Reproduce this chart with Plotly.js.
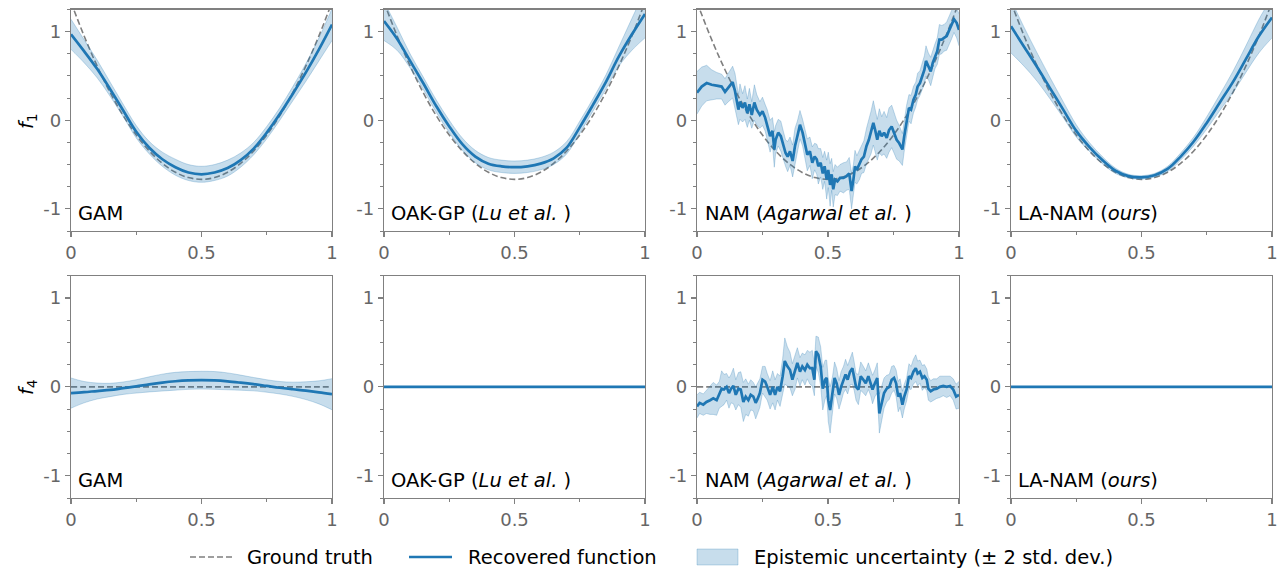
<!DOCTYPE html>
<html>
<head>
<meta charset="utf-8">
<script src="https://cdn.plot.ly/plotly-3.0.1.min.js"></script>
<style>body{margin:0;background:#fff}#chart{width:1278px;height:569px}</style>
</head>
<body>
<div id="chart"></div>
<script>
// ---------- data ----------
const gridX = [0,0.05,0.1,0.15,0.2,0.25,0.3,0.35,0.4,0.45,0.5,0.55,0.6,0.65,0.7,0.75,0.8,0.85,0.9,0.95,1];

const truthF1 = [1.333,0.953,0.613,0.313,0.053,-0.167,-0.347,-0.487,-0.587,-0.647,-0.667,-0.647,-0.587,-0.487,-0.347,-0.167,0.053,0.313,0.613,0.953,1.333];
const truthF4 = [0,0,0,0,0,0,0,0,0,0,0,0,0,0,0,0,0,0,0,0,0];

const gamF1     = [0.97,0.78,0.58,0.35,0.11,-0.13,-0.31,-0.44,-0.53,-0.59,-0.61,-0.59,-0.54,-0.45,-0.32,-0.14,0.07,0.30,0.54,0.80,1.08];
const gamF1Band = [0.17,0.13,0.10,0.08,0.07,0.07,0.07,0.08,0.09,0.09,0.09,0.09,0.09,0.08,0.07,0.07,0.07,0.08,0.10,0.13,0.18];

const oakF1     = [1.12,0.92,0.67,0.42,0.16,-0.07,-0.27,-0.41,-0.49,-0.52,-0.53,-0.52,-0.49,-0.43,-0.31,-0.08,0.17,0.43,0.72,0.97,1.20];
const oakF1Band = [0.22,0.13,0.08,0.07,0.07,0.07,0.07,0.07,0.07,0.07,0.07,0.07,0.07,0.07,0.07,0.07,0.07,0.08,0.11,0.18,0.27];

const laF1      = [1.06,0.83,0.60,0.36,0.12,-0.12,-0.30,-0.45,-0.57,-0.63,-0.645,-0.62,-0.55,-0.41,-0.24,-0.03,0.20,0.43,0.69,0.95,1.16];
const laF1Band  = [0.30,0.22,0.16,0.12,0.09,0.07,0.05,0.04,0.03,0.02,0.02,0.02,0.03,0.04,0.05,0.07,0.09,0.12,0.15,0.19,0.23];

const gamF4     = [-0.07,-0.06,-0.047,-0.035,-0.015,0.005,0.028,0.048,0.063,0.072,0.075,0.072,0.062,0.047,0.03,0.01,-0.01,-0.027,-0.043,-0.062,-0.083];
const gamF4Band = [0.17,0.12,0.09,0.075,0.07,0.075,0.085,0.095,0.10,0.10,0.10,0.10,0.095,0.085,0.075,0.07,0.07,0.08,0.10,0.13,0.175];

const oakF4 = [0,0,0,0,0,0,0,0,0,0,0,0,0,0,0,0,0,0,0,0,0];
const laF4  = [0,0,0,0,0,0,0,0,0,0,0,0,0,0,0,0,0,0,0,0,0];

const namF1X = [0,0.018,0.037,0.056,0.075,0.094,0.107,0.12,0.136,0.145,0.158,0.164,0.174,0.183,0.192,0.20,0.209,0.219,0.228,0.24,0.25,0.26,0.268,0.279,0.288,0.295,0.30,0.31,0.32,0.33,0.338,0.346,0.355,0.365,0.374,0.383,0.393,0.403,0.412,0.421,0.431,0.44,0.449,0.457,0.463,0.472,0.48,0.487,0.495,0.501,0.508,0.514,0.52,0.527,0.536,0.546,0.559,0.571,0.581,0.59,0.597,0.603,0.61,0.62,0.628,0.637,0.647,0.656,0.664,0.673,0.68,0.688,0.696,0.705,0.714,0.724,0.733,0.743,0.752,0.762,0.772,0.784,0.791,0.80,0.809,0.817,0.826,0.835,0.842,0.851,0.86,0.868,0.874,0.883,0.892,0.90,0.908,0.917,0.925,0.934,0.943,0.953,0.963,0.972,0.981,0.991,1.0];
const namF1 = [0.31,0.38,0.42,0.40,0.39,0.38,0.32,0.37,0.43,0.33,0.12,0.21,0.14,0.20,0.08,0.18,0.06,0.20,0.12,0.06,0.10,0.03,-0.05,-0.18,-0.12,-0.33,-0.22,-0.14,-0.18,-0.29,-0.37,-0.41,-0.35,-0.46,-0.29,-0.18,-0.05,-0.14,-0.26,-0.39,-0.35,-0.48,-0.41,-0.44,-0.52,-0.48,-0.60,-0.52,-0.67,-0.56,-0.73,-0.61,-0.78,-0.67,-0.69,-0.65,-0.65,-0.63,-0.60,-0.80,-0.67,-0.52,-0.56,-0.50,-0.44,-0.41,-0.29,-0.22,-0.14,-0.03,-0.11,-0.22,-0.12,-0.18,-0.14,-0.20,-0.11,-0.07,-0.14,-0.22,-0.26,-0.33,-0.18,0.01,0.14,0.12,0.23,0.29,0.38,0.42,0.50,0.57,0.67,0.61,0.55,0.65,0.72,0.78,0.91,0.91,0.93,0.95,1.02,1.08,1.14,1.10,1.02];
const namF1Band = [0.24,0.22,0.2,0.17,0.15,0.14,0.15,0.16,0.18,0.2,
  0.17,0.2,0.16,0.19,0.16,0.18,0.15,0.2,0.17,0.15,
  0.16,0.15,0.17,0.18,0.15,0.2,0.16,0.15,0.17,0.16,
  0.15,0.17,0.16,0.18,0.2,0.17,0.16,0.15,0.17,0.18,
  0.16,0.18,0.15,0.17,0.2,0.16,0.18,0.17,0.22,0.2,
  0.24,0.18,0.2,0.17,0.16,0.15,0.17,0.16,0.18,0.2,
  0.17,0.18,0.16,0.17,0.16,0.18,0.2,0.22,0.24,0.25,
  0.24,0.23,0.25,0.22,0.24,0.23,0.25,0.24,0.23,0.22,
  0.2,0.18,0.17,0.16,0.15,0.16,0.15,0.14,0.15,0.14,
  0.15,0.16,0.17,0.15,0.16,0.15,0.14,0.15,0.17,0.16,
  0.15,0.16,0.17,0.16,0.15,0.17,0.18];

const namF4X = [0,0.01,0.024,0.036,0.05,0.062,0.075,0.085,0.094,0.103,0.113,0.122,0.13,0.139,0.148,0.158,0.167,0.177,0.186,0.196,0.205,0.215,0.224,0.232,0.24,0.25,0.26,0.268,0.279,0.289,0.298,0.307,0.317,0.327,0.335,0.345,0.355,0.364,0.374,0.383,0.393,0.402,0.412,0.421,0.431,0.44,0.448,0.454,0.463,0.472,0.48,0.489,0.495,0.501,0.508,0.517,0.525,0.533,0.542,0.55,0.559,0.567,0.575,0.584,0.593,0.6,0.607,0.616,0.625,0.635,0.644,0.654,0.663,0.67,0.679,0.688,0.696,0.705,0.714,0.724,0.734,0.743,0.752,0.76,0.768,0.775,0.784,0.791,0.80,0.809,0.817,0.826,0.835,0.842,0.851,0.86,0.868,0.877,0.883,0.892,0.902,0.915,0.927,0.94,0.953,0.966,0.978,0.989,1.0];
const namF4 = [-0.22,-0.18,-0.20,-0.17,-0.15,-0.13,-0.15,-0.09,-0.02,-0.03,0.00,-0.07,-0.02,0.01,-0.09,-0.02,-0.03,-0.17,-0.11,-0.15,-0.09,-0.11,-0.18,-0.13,-0.07,0.08,0.06,0.00,-0.09,0.00,-0.09,0.00,-0.05,0.12,0.29,0.23,0.19,0.08,0.17,0.27,0.17,0.23,0.19,0.25,0.21,0.21,0.08,0.40,0.36,0.23,-0.02,0.08,0.10,-0.15,-0.26,-0.09,0.10,0.04,-0.09,0.00,0.08,0.14,0.08,0.17,0.21,0.12,0.00,-0.03,0.12,0.08,0.04,0.12,0.04,-0.03,0.04,0.10,-0.30,-0.18,-0.07,-0.02,0.00,0.08,0.10,0.04,-0.11,-0.07,-0.20,-0.11,-0.03,0.12,0.10,0.17,0.21,0.15,0.17,0.10,0.12,0.08,-0.02,-0.05,-0.03,-0.02,0.00,0.01,0.00,0.01,-0.03,-0.11,-0.09];
const namF4Band = [0.13,0.12,0.12,0.13,0.16,0.18,0.17,0.15,0.2,0.17,
  0.15,0.17,0.16,0.2,0.17,0.18,0.2,0.22,0.2,0.18,
  0.17,0.16,0.18,0.17,0.16,0.15,0.17,0.15,0.16,0.18,
  0.17,0.15,0.17,0.2,0.26,0.22,0.2,0.18,0.2,0.17,
  0.16,0.15,0.17,0.16,0.18,0.2,0.18,0.17,0.2,0.22,
  0.24,0.22,0.2,0.24,0.26,0.2,0.18,0.17,0.16,0.17,
  0.15,0.17,0.16,0.15,0.18,0.16,0.15,0.17,0.16,0.15,
  0.14,0.15,0.14,0.16,0.15,0.17,0.22,0.2,0.17,0.15,
  0.14,0.15,0.14,0.15,0.17,0.16,0.15,0.14,0.13,0.14,
  0.13,0.14,0.15,0.14,0.13,0.14,0.13,0.12,0.13,0.12,
  0.12,0.11,0.12,0.11,0.12,0.11,0.12,0.14,0.15];

const panelLabels = ['GAM', 'OAK-GP (<i>Lu et al.</i> )', 'NAM (<i>Agarwal et al.</i> )', 'LA-NAM (<i>ours</i>)'];
const rowLabels = ['<i>f</i><sub>1</sub>', '<i>f</i><sub>4</sub>'];
const xTickVals = [0, 0.5, 1];
const xTickText = ['0', '0.5', '1'];
const yTickVals = [-1, 0, 1];
const yTickText = ['-1', '0', '1'];
const legendLabels = ['Ground truth', 'Recovered function', 'Epistemic uncertainty (± 2 std. dev.)'];

// ---------- figure ----------
const W = 1278, H = 569;
const BLUE = '#1f77b4', BAND = 'rgba(31,119,180,0.25)', GRAY = '#7f7f7f', AXIS = '#808080';
const FONT = 'DejaVu Sans, Liberation Sans, sans-serif';
const TXT = 19.5, TICK = 18;

const panels = [
  {x: gridX, y: gamF1, band: gamF1Band, truth: truthF1, shape: 'spline'},
  {x: gridX, y: oakF1, band: oakF1Band, truth: truthF1, shape: 'spline'},
  {x: namF1X, y: namF1, band: namF1Band, truth: truthF1, shape: 'linear'},
  {x: gridX, y: laF1, band: laF1Band, truth: truthF1, shape: 'spline'},
  {x: gridX, y: gamF4, band: gamF4Band, truth: truthF4, shape: 'spline'},
  {x: gridX, y: oakF4, band: null, truth: truthF4, shape: 'linear'},
  {x: namF4X, y: namF4, band: namF4Band, truth: truthF4, shape: 'linear'},
  {x: gridX, y: laF4, band: null, truth: truthF4, shape: 'linear'}
];

const colPx = [[71, 332], [384, 645], [697, 959], [1011, 1272]];
const rowPx = [[9.5, 231], [275.7, 498]];

const traces = [];
const layout = {
  width: W, height: H,
  margin: {l: 0, r: 0, t: 0, b: 0},
  paper_bgcolor: '#fff', plot_bgcolor: '#fff',
  showlegend: false,
  font: {family: FONT, size: TICK, color: '#000'},
  annotations: [], shapes: []
};

panels.forEach((p, i) => {
  const row = Math.floor(i / 4), col = i % 4;
  const n = i + 1;
  const xa = 'x' + (n === 1 ? '' : n), ya = 'y' + (n === 1 ? '' : n);
  const common = {xaxis: xa, yaxis: ya, hoverinfo: 'skip'};

  traces.push(Object.assign({type: 'scatter', mode: 'lines', x: gridX, y: p.truth,
    line: {color: GRAY, width: 1.6, dash: '6px,3px', shape: 'spline'}}, common));

  if (p.band) {
    const lo = p.y.map((v, k) => v - p.band[k]);
    const hi = p.y.map((v, k) => v + p.band[k]);
    traces.push(Object.assign({type: 'scatter', mode: 'lines', x: p.x, y: lo,
      line: {color: BAND, width: 1, shape: p.shape}}, common));
    traces.push(Object.assign({type: 'scatter', mode: 'lines', x: p.x, y: hi, fill: 'tonexty',
      fillcolor: BAND, line: {color: BAND, width: 1, shape: p.shape}}, common));
  }
  traces.push(Object.assign({type: 'scatter', mode: 'lines', x: p.x, y: p.y,
    line: {color: BLUE, width: 2.7, shape: p.shape}}, common));

  const axBase = {
    showline: true, mirror: true, linecolor: AXIS, linewidth: 1.2,
    showgrid: false, zeroline: false, ticks: 'outside', ticklen: 5, tickwidth: 1.2,
    tickcolor: AXIS, tickfont: {family: FONT, size: TICK, color: '#666'}, tickmode: 'array',
    fixedrange: true
  };
  layout['xaxis' + (n === 1 ? '' : n)] = Object.assign({}, axBase, {
    domain: [colPx[col][0] / W, colPx[col][1] / W], anchor: ya,
    range: [0, 1], tickvals: xTickVals, ticktext: xTickText,
    minor: {tickmode: 'array', tickvals: [0.25, 0.75], ticks: 'outside', ticklen: 3, tickwidth: 1, tickcolor: AXIS, showgrid: false}
  });
  layout['yaxis' + (n === 1 ? '' : n)] = Object.assign({}, axBase, {
    domain: [1 - rowPx[row][1] / H, 1 - rowPx[row][0] / H], anchor: xa,
    range: [-1.25, 1.25], tickvals: yTickVals, ticktext: yTickText,
    minor: {tickmode: 'array', tickvals: [-1.25, -0.75, -0.5, -0.25, 0.25, 0.5, 0.75, 1.25], ticks: 'outside', ticklen: 3, tickwidth: 1, tickcolor: AXIS, showgrid: false}
  });

  layout.annotations.push({
    xref: xa, yref: ya, x: 0.021, y: -1.055, xanchor: 'left', yanchor: 'middle',
    text: panelLabels[col], showarrow: false, font: {family: FONT, size: TXT, color: '#000'}
  });
});

// row titles
[121, 387].forEach((py, r) => {
  layout.annotations.push({
    xref: 'paper', yref: 'paper', x: 27 / W, y: 1 - py / H, xanchor: 'center', yanchor: 'middle',
    text: rowLabels[r], textangle: -90, showarrow: false, font: {family: FONT, size: TXT, color: '#000'}
  });
});

// legend (drawn manually to match placement)
const ly = 1 - 557 / H;
layout.shapes.push({type: 'line', xref: 'paper', yref: 'paper', x0: 190 / W, x1: 233 / W, y0: ly, y1: ly,
  line: {color: GRAY, width: 1.6, dash: '6px,3px'}});
layout.shapes.push({type: 'line', xref: 'paper', yref: 'paper', x0: 409 / W, x1: 452 / W, y0: ly, y1: ly,
  line: {color: BLUE, width: 2.7}});
layout.shapes.push({type: 'rect', xref: 'paper', yref: 'paper', x0: 697 / W, x1: 738 / W, y0: 1 - 565 / H, y1: 1 - 549 / H,
  fillcolor: BAND, line: {color: BAND, width: 1}});
[[245, 0], [466, 1], [752, 2]].forEach(([px, k]) => {
  layout.annotations.push({xref: 'paper', yref: 'paper', x: px / W, y: ly, xanchor: 'left', yanchor: 'middle',
    text: legendLabels[k], showarrow: false, font: {family: FONT, size: TXT, color: '#000'}});
});

Plotly.newPlot('chart', traces, layout, {displayModeBar: false, staticPlot: true});
</script>
</body>
</html>
